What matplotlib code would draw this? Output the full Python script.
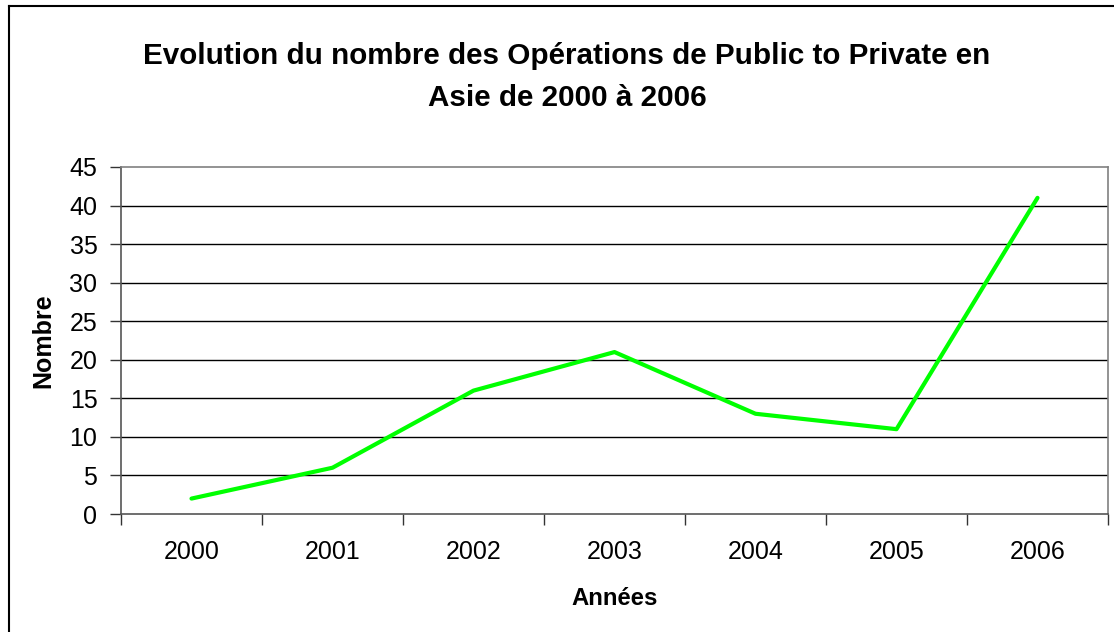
import matplotlib
matplotlib.use("Agg")
import matplotlib.pyplot as plt
from matplotlib.lines import Line2D

years = ["2000", "2001", "2002", "2003", "2004", "2005", "2006"]
counts = [2, 6, 16, 21, 13, 11, 41]
yticks = [0, 5, 10, 15, 20, 25, 30, 35, 40, 45]

plt.rcParams['font.family'] = ['Liberation Sans', 'DejaVu Sans']

W, H = 1114, 632
fig = plt.figure(figsize=(W / 100, H / 100), dpi=100)
fig.patch.set_facecolor('white')

L, R, T, B = 121, 1108, 167, 514
ax = fig.add_axes([L / W, 1 - B / H, (R - L) / W, (B - T) / H])

x = list(range(len(years)))
ax.set_xlim(-0.5, len(years) - 0.5)
ax.set_ylim(0, 45)

for v in yticks[1:-1]:
    ax.axhline(v, color='black', lw=1.0, zorder=1)

ax.plot(x, counts, color='#00FF00', lw=3, solid_capstyle='round', zorder=3)

ax.set_yticks(yticks)
ax.set_yticklabels([str(v) for v in yticks], fontsize=18)
ax.set_xticks([i - 0.5 for i in range(len(years) + 1)])
ax.set_xticklabels([])
ax.set_xticks(x, minor=True)
ax.set_xticklabels(years, minor=True, fontsize=18)
ax.tick_params(axis='x', which='minor', length=0, pad=19)
ax.tick_params(axis='x', which='major', length=8, width=1, color='#333333', direction='out')
ax.tick_params(axis='y', length=8, width=1, color='#333333', direction='out', pad=9)

for s in ['left', 'bottom']:
    ax.spines[s].set_color('#555555')
    ax.spines[s].set_linewidth(1.2)
for s in ['right', 'top']:
    ax.spines[s].set_color('#808080')
    ax.spines[s].set_linewidth(1.2)

ax.set_xlabel("Années", fontsize=17.2, fontweight='bold', labelpad=16)
ax.set_ylabel("Nombre", fontsize=18, fontweight='bold', labelpad=10)

fig.text(567 / W, 1 - 56 / H, "Evolution du nombre des Opérations de Public to Private en",
         ha='center', va='center', fontsize=21.3, fontweight='bold')
fig.text(567 / W, 1 - 98 / H, "Asie de 2000 à 2006",
         ha='center', va='center', fontsize=21.3, fontweight='bold')

# outer chart border (top and left visible)
fig.add_artist(Line2D([8.5 / W, 8.5 / W], [0, 1 - 6 / H], transform=fig.transFigure, color='black', lw=1.5))
fig.add_artist(Line2D([8.5 / W, 1], [1 - 6 / H, 1 - 6 / H], transform=fig.transFigure, color='black', lw=1.5))

fig.savefig("out.png", dpi=100, facecolor='white')
